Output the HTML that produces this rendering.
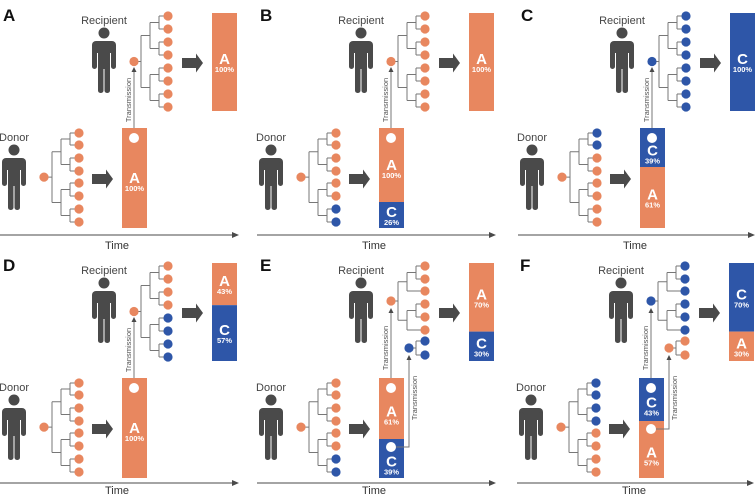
<!DOCTYPE html>
<html><head><meta charset="utf-8">
<style>
html,body{margin:0;padding:0;background:#fff;}
svg{display:block;font-family:"Liberation Sans",Arial,sans-serif;}
</style></head>
<body>
<svg id="fig" width="756" height="497" viewBox="0 0 756 497"></svg>
<script>
const O='#E8875F', B='#2E56A8', G='#4a4a4a', L='#777';
// panel data
const panelLetters=['A','B','C','D','E','F'];
const panelOriginX=[0,257,518,0,257,517];
const panelOriginY=[0,0,0,250,250,250];
const donorLeafColors=[
 [O,O,O,O,O,O,O,O],[O,O,O,O,O,O,B,B],[B,B,O,O,O,O,O,O],
 [O,O,O,O,O,O,O,O],[O,O,O,O,O,O,B,B],[B,B,B,B,O,O,O,O]];
const donorBarLabels=[[['A','100%']],[['A','100%'],['C','26%']],[['C','39%'],['A','61%']],
 [['A','100%']],[['A','61%'],['C','39%']],[['C','43%'],['A','57%']]];
const donorBarShares=[[100],[74,26],[39,61],[100],[61,39],[43,57]];
const donorBarColors=[[O],[O,B],[B,O],[O],[O,B],[B,O]];
const recipMainColors=[[O,O,O,O,O,O,O,O],[O,O,O,O,O,O,O,O],[B,B,B,B,B,B,B,B],
 [O,O,O,O,B,B,B,B],[O,O,O,O,O,O],[B,B,B,B,B,B]];
const recipRootColor=[O,O,B,O,O,B];
const recipSubColors=[null,null,null,null,[B,B],[O,O]];
const recipBarLabels=[[['A','100%']],[['A','100%']],[['C','100%']],
 [['A','43%'],['C','57%']],[['A','70%'],['C','30%']],[['C','70%'],['A','30%']]];
const recipBarShares=[[100],[100],[100],[43,57],[70,30],[70,30]];
const recipBarColors=[[O],[O],[B],[O,B],[O,B],[B,O]];

const NS='http://www.w3.org/2000/svg';
const fig=document.getElementById('fig');
function mk(tag,attrs,parent){const e=document.createElementNS(NS,tag);for(const k in attrs)e.setAttribute(k,attrs[k]);parent.appendChild(e);return e;}

function person(g,cx,top){
  const p=mk('g',{fill:G},g);
  
  
  mk('circle',{cx:cx,cy:top,r:5.5},p);
  mk('rect',{x:cx-12,y:top+8,width:24,height:12,rx:4},p);
  mk('rect',{x:cx-12,y:top+12,width:5,height:24,rx:2.5},p);
  mk('rect',{x:cx+7,y:top+12,width:5,height:24,rx:2.5},p);
  mk('rect',{x:cx-6,y:top+8,width:12,height:28},p);
  mk('rect',{x:cx-6,y:top+30,width:5.5,height:30,rx:2.5},p);
  mk('rect',{x:cx+0.5,y:top+30,width:5.5,height:30,rx:2.5},p);
}
function tree(g,leafX,ys,colors,rootX,rootColor,name){
  const t=mk('g',{},g);
  
  
  function build(lo,hi){
    if(hi-lo===1) return {x:leafX,y:ys[lo],h:0,leaf:true};
    const mid=lo+Math.ceil((hi-lo)/2);
    const a=build(lo,mid),b=build(mid,hi);
    const h=Math.max(a.h,b.h)+1, x=leafX-9*h, y=(a.y+b.y)/2;
    mk('line',{x1:x,y1:a.y,x2:x,y2:b.y,stroke:L,'stroke-width':1},t);
    [a,b].forEach(c=>mk('line',{x1:x,y1:c.y,x2:c.x,y2:c.y,stroke:L,'stroke-width':1},t));
    return {x:x,y:y,h:h};
  }
  const r=build(0,ys.length);
  mk('line',{x1:rootX,y1:r.y,x2:r.x,y2:r.y,stroke:L,'stroke-width':1},t);
  ys.forEach((y,i)=>{const c=mk('circle',{cx:leafX,cy:y,r:4.6,fill:colors[i]},t);
    });
  const rc=mk('circle',{cx:rootX,cy:r.y,r:4.6,fill:rootColor},t);
  
  return r.y;
}
function bar(g,x,y,h,shares,colors,labels,name,circles){
  const b=mk('g',{},g);
  
  
  const tot=shares.reduce((a,c)=>a+c,0);let cy=y;const tops=[];
  shares.forEach((s,i)=>{const hh=h*s/tot;tops.push(cy);
    const r=mk('rect',{x:x,y:cy,width:25,height:hh,fill:colors[i]},b);
    
    const m=cy+hh/2;
    const c=circles&&circles[i];
    const lb=c?(hh<70?m+8:m+5):m+2, pb=c?(hh<70?m+16:m+13):m+10;
    const t1=mk('text',{x:x+12.5,y:lb,'text-anchor':'middle','font-size':15,'font-weight':'bold',fill:'#fff'},b);t1.textContent=labels[i][0];
    
    const t2=mk('text',{x:x+12.5,y:pb,'text-anchor':'middle','font-size':7.5,'font-weight':'bold',fill:'#fff'},b);t2.textContent=labels[i][1];
    
    cy+=hh;});
  return tops;
}
function bigArrow(g,x,cy){
  const a=mk('path',{d:`M${x} ${cy-5}h14v-4.5l7 9.5l-7 9.5v-4.5h-14z`,fill:G},g);
  
}
function txt(g,x,y,s,attrs,name){const t=mk('text',Object.assign({x:x,y:y},attrs),g);t.textContent=s;
  return t;}
function arrowUp(g,x,y){mk('path',{d:`M${x-2.5} ${y+5}L${x} ${y}L${x+2.5} ${y+5}z`,fill:G},g);}

for(let p=0;p<6;p++){
  const g=mk('g',{transform:`translate(${panelOriginX[p]},${panelOriginY[p]})`},fig);
  
  
  txt(g,3,21,panelLetters[p],{'font-size':17,'font-weight':'bold',fill:'#111'},'panel-label');
  // recipient
  txt(g,104,24,'Recipient',{'font-size':11,'text-anchor':'middle',fill:'#444'},'recipient-label');
  person(g,104,33);
  const sub=recipSubColors[p];
  if(sub){
    tree(g,168,[16,29,41,54,67,80],recipMainColors[p],134,recipRootColor[p],'recipient-tree');
    tree(g,168,[91,105],sub,152,sub[0],'recipient-subtree');
  } else {
    const ys=[16,29,42,55,68,81,94,107];
    tree(g,168,ys,recipMainColors[p],134,recipRootColor[p],'recipient-tree');
  }
  bigArrow(g,182,63);
  bar(g,212,13,98,recipBarShares[p],recipBarColors[p],recipBarLabels[p],'recipient-bar',null);
  // donor
  txt(g,14,141,'Donor',{'font-size':11,'text-anchor':'middle',fill:'#444'},'donor-label');
  person(g,14,150);
  tree(g,79,[133,145,158,171,183,196,209,222],donorLeafColors[p],44,O,'donor-tree');
  bigArrow(g,92,179);
  const tops=bar(g,122,128,100,donorBarShares[p],donorBarColors[p],donorBarLabels[p],'donor-bar',sub?[true,true]:[true,false]);
  // transmission 1
  const ty=sub?58:67;
  mk('line',{x1:134,y1:128,x2:134,y2:ty+4,stroke:L,'stroke-width':1},g);
  arrowUp(g,134,ty);
  mk('circle',{cx:134,cy:138,r:5,fill:'#fff'},g);
  txt(g,0,0,'Transmission',{'font-size':7.5,fill:'#555','text-anchor':'middle',transform:`translate(131,${sub?98:100}) rotate(-90)`},'transmission-label');
  if(sub){
    const cy2=tops[1]+8;
    mk('path',{d:`M134 ${cy2}H152V109`,stroke:L,'stroke-width':1,fill:'none'},g);
    arrowUp(g,152,105);
    mk('circle',{cx:134,cy:cy2,r:5,fill:'#fff'},g);
    txt(g,0,0,'Transmission',{'font-size':7.5,fill:'#555','text-anchor':'middle',transform:`translate(160,148) rotate(-90)`},'transmission-label-2');
  }
  // time axis
  const axW=p%3===2?230:232;
  const axY=p<3?235:233, tY=p<3?249:244;
  mk('line',{x1:0,y1:axY,x2:axW,y2:axY,stroke:G,'stroke-width':1},g);
  mk('path',{d:`M${axW} ${axY-3}L${axW+7} ${axY}L${axW} ${axY+3}z`,fill:G},g);
  txt(g,117,tY,'Time',{'font-size':11,'text-anchor':'middle',fill:'#333'},'time-axis-label');
}
</script>
</body></html>
